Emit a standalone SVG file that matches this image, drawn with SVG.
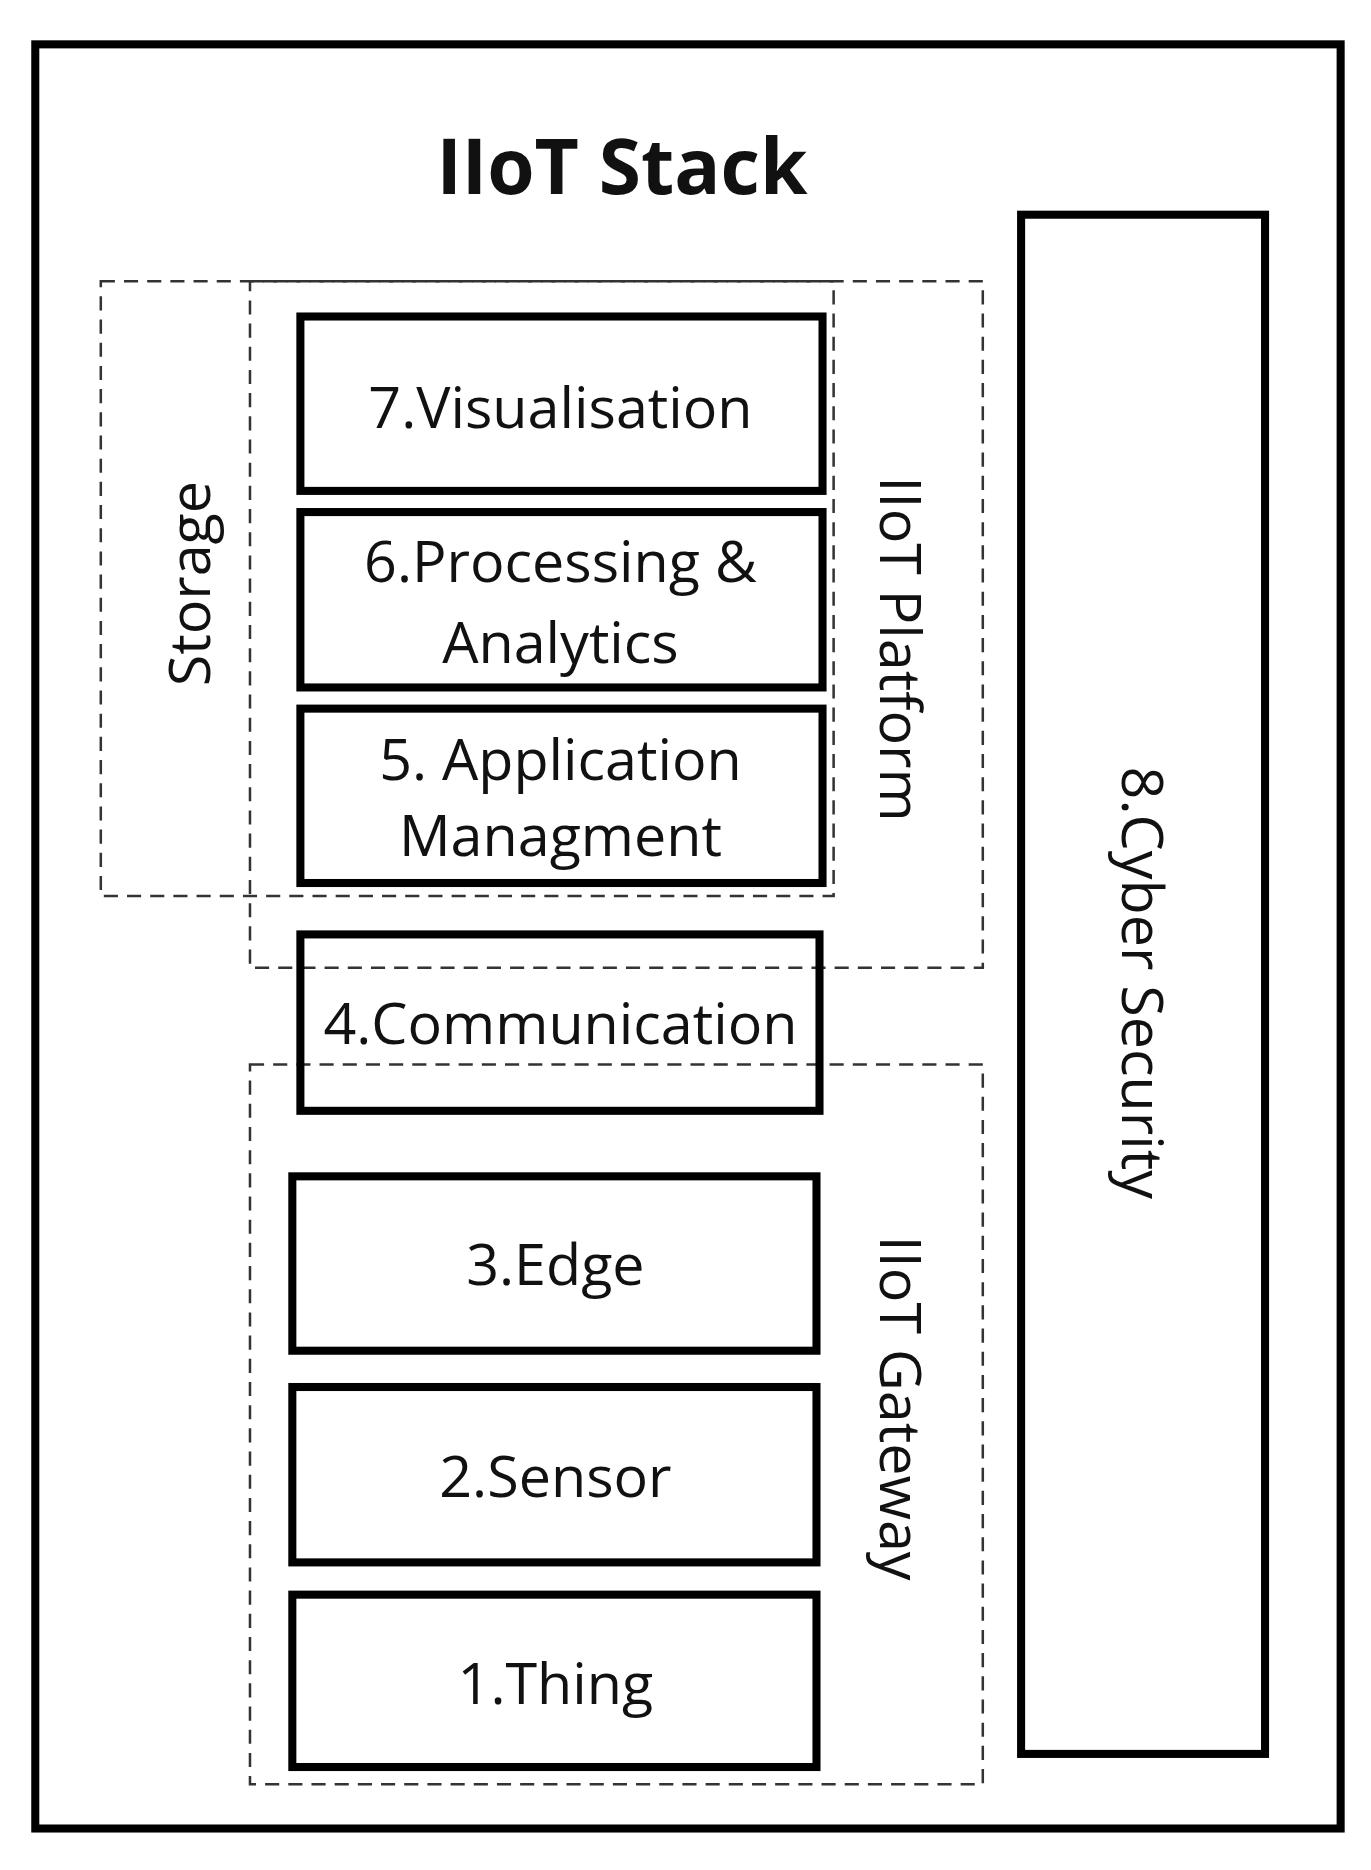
<svg xmlns="http://www.w3.org/2000/svg" width="1371" height="1870" viewBox="0 0 1371 1870">
<style>
.b{fill:none;stroke:#000;stroke-width:8}
.d{fill:none;stroke:#333;stroke-width:2.5;stroke-dasharray:14 9}
text{font-family:"Open Sans","Noto Sans",sans-serif;font-size:57px;fill:#111;text-anchor:middle;dominant-baseline:central}
</style>
<rect width="1371" height="1870" fill="#fff"/>
<g transform="scale(1.008)">
<rect x="35" y="44" width="1295" height="1770" class="b"/>
<text x="617" y="163" style="font-weight:bold;font-size:76px">IIoT Stack</text>
<g id="storage"><rect x="100" y="279" width="727" height="610" class="d"/><text transform="translate(187 579) rotate(-90)">Storage</text></g>
<g id="platform"><rect x="248" y="279" width="727" height="681" class="d"/><text transform="translate(895 644) rotate(90)">IIoT Platform</text></g>
<g id="gateway"><rect x="248" y="1056" width="727" height="714" class="d"/><text transform="translate(895 1397) rotate(90)">IIoT Gateway</text></g>
<g id="n8"><rect x="1013" y="213" width="242" height="1527" class="b"/><text transform="translate(1135 975) rotate(90)">8.Cyber Security</text></g>
<g id="n7"><rect x="298" y="314" width="518" height="173" class="b"/><text x="556" y="403">7.Visualisation</text></g>
<g id="n6"><rect x="298" y="508" width="518" height="174" class="b"/><text x="556" y="556">6.Processing &amp;</text><text x="556" y="636">Analytics</text></g>
<g id="n5"><rect x="298" y="703" width="518" height="173" class="b"/><text x="556" y="752">5. Application</text><text x="556" y="827">Managment</text></g>
<g id="n4"><rect x="298" y="927" width="515" height="175" class="b"/><text x="556" y="1014">4.Communication</text></g>
<g id="n3"><rect x="290" y="1167" width="520" height="173" class="b"/><text x="551" y="1253">3.Edge</text></g>
<g id="n2"><rect x="290" y="1376" width="520" height="174" class="b"/><text x="551" y="1463">2.Sensor</text></g>
<g id="n1"><rect x="290" y="1582" width="520" height="171" class="b"/><text x="551" y="1669">1.Thing</text></g>
<g id="connectors"/>
</g>
</svg>
